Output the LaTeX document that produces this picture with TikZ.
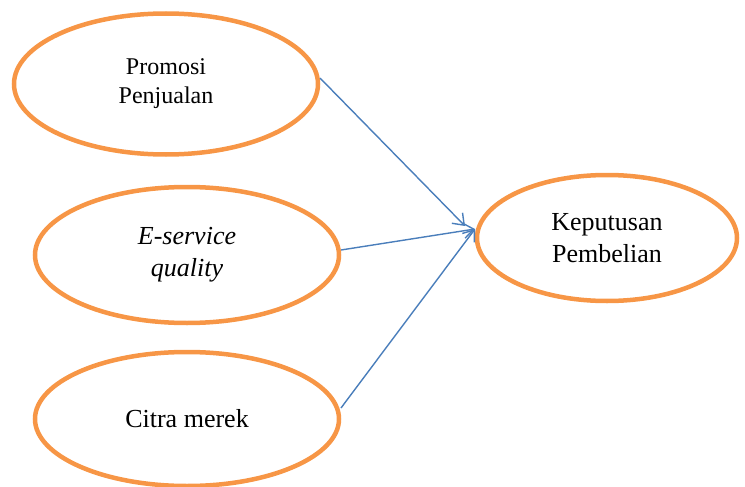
\documentclass[tikz,border=0pt]{standalone}
\usepackage{fontspec}
\setmainfont{Liberation Serif}
\usetikzlibrary{shapes.geometric,arrows.meta}
\definecolor{ora}{RGB}{247,150,70}
\definecolor{blu}{RGB}{74,126,187}
\tikzset{
  var/.style={draw=ora, line width=4.5pt, ellipse, inner sep=0pt, align=center,
    font=\fontsize{26}{32}\selectfont},
  link/.style={draw=blu, line width=1.4pt, -{Straight Barb[length=10pt,width=15pt]}}
}
\begin{document}
\begin{tikzpicture}[x=1pt,y=-1pt]
\useasboundingbox (0,0) rectangle (745,487);
\node[var, minimum width=304pt, minimum height=141pt, font=\fontsize{24}{29}\selectfont] (p) at (166,84) {Promosi\\Penjualan};
\node[var, minimum width=304pt, minimum height=136pt] (e) at (187,255) {\textit{E-service}\\\textit{quality}};
\node[var, minimum width=304pt, minimum height=134pt] (c) at (187,419) {Citra merek};
\node[var, minimum width=260pt, minimum height=126pt] (k) at (607,238) {Keputusan\\Pembelian};
\coordinate (pout) at (320,78);
\coordinate (eout) at (341,250);
\coordinate (cout) at (341,408);
\coordinate (kin1) at (465,226);
\coordinate (kin2) at (475,229);
\draw[link] (pout) -- (kin1);
\draw[link] (eout) -- (kin2);
\draw[link] (cout) -- (kin2);
\end{tikzpicture}
\end{document}
